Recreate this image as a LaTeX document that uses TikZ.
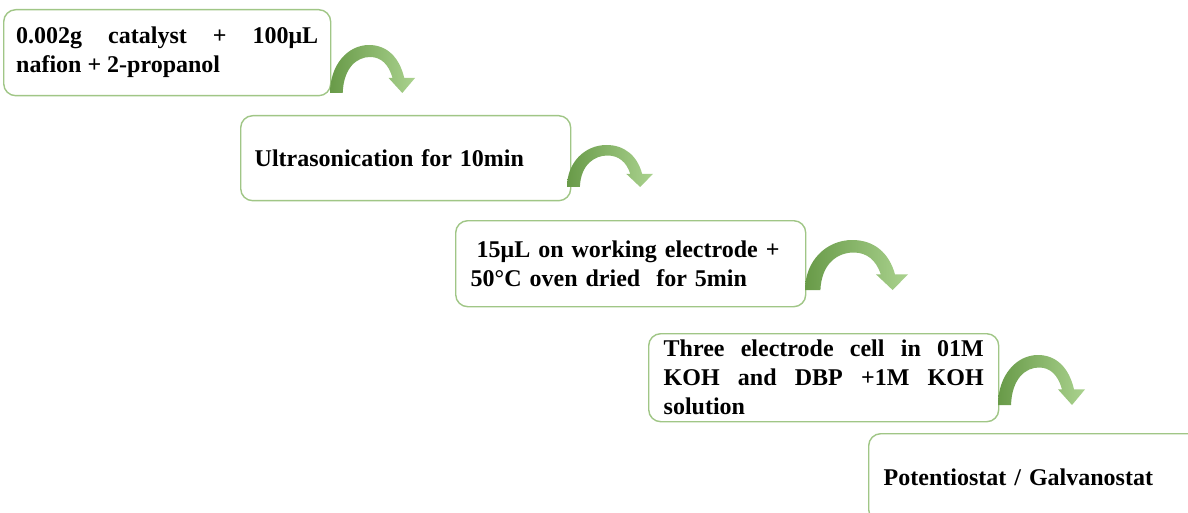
\documentclass[tikz,border=0pt]{standalone}
\usepackage{fontspec}
\setmainfont{Liberation Serif}
\definecolor{boxgreen}{RGB}{160,198,134}
\definecolor{arrdark}{RGB}{104,154,72}
\definecolor{arrlight}{RGB}{170,210,142}
\tikzset{
  stepbox/.style={draw=boxgreen, line width=1.4pt, rounded corners=12pt, fill=white,
    font=\fontsize{24}{29}\selectfont\bfseries, inner ysep=0pt, anchor=north west},
  arrowfill/.style={left color=arrdark, right color=arrlight, draw=none}
}
\newcommand\curvedarrow[4]{%
  \begin{scope}[shift={(#1,#2)},xscale=#3/87,yscale=#4/48]
    \shade[arrowfill] (0,0) .. controls (0,-28) and (18,-48) .. (40,-48)
      .. controls (58,-48) and (71,-36) .. (76,-15) -- (87,-15) -- (74,0) -- (60,-15) -- (64,-15)
      .. controls (60,-29) and (52,-36) .. (41,-36) .. controls (28,-36) and (14,-26) .. (13,0) -- cycle;
  \end{scope}}
\hyphenpenalty=10000
\begin{document}
\begin{tikzpicture}[x=1pt,y=-1pt]
\useasboundingbox (0,0) rectangle (1188,513);
\clip (0,0) rectangle (1188,513);
\node[stepbox, minimum width=327pt, minimum height=86pt, text width=302pt, inner xsep=12.5pt, align=justify] (b1) at (3,9)
  {0.002g catalyst + 100μL\linebreak nafion + 2-propanol};
\node[stepbox, minimum width=330pt, minimum height=85pt, text width=302pt, inner xsep=14pt, align=left] (b2) at (240,115)
  {Ultrasonication for 10min};
\node[stepbox, minimum width=350pt, minimum height=86pt, text width=320pt, inner xsep=15pt, align=left] (b3) at (455,220)
  {\hspace*{6pt}15μL on working electrode +\\50°C oven dried\ \ for 5min};
\node[stepbox, minimum width=350pt, minimum height=88pt, text width=320pt, inner xsep=14pt, align=justify] (b4) at (648,333)
  {Three electrode cell in 01M\linebreak KOH and DBP +1M KOH\linebreak solution};
\node[stepbox, minimum width=340pt, minimum height=88pt, text width=310pt, inner xsep=15pt, align=left] (b5) at (868,433)
  {Potentiostat / Galvanostat};
\curvedarrow{330}{93}{85}{48}
\curvedarrow{567}{187}{86}{42}
\curvedarrow{805}{290}{103}{50}
\curvedarrow{998}{405}{87}{50}
\end{tikzpicture}
\end{document}
